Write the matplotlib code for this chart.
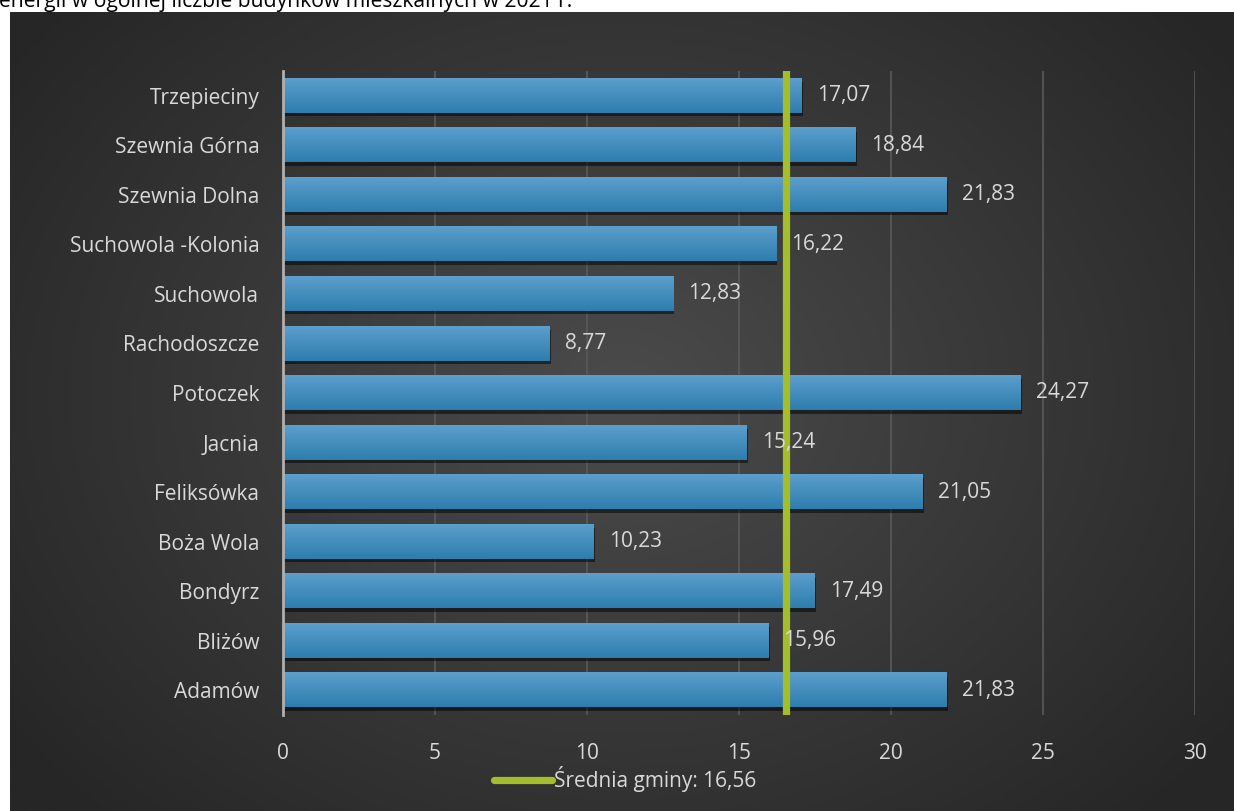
import numpy as np
import matplotlib
matplotlib.use("Agg")
import matplotlib.pyplot as plt
import matplotlib.patheffects as pe
from matplotlib.colors import LinearSegmentedColormap

plt.rcParams['font.family'] = ['Open Sans', 'DejaVu Sans']

# data, top to bottom as in the chart
villages = ['Trzepieciny', 'Szewnia Górna', 'Szewnia Dolna', 'Suchowola -Kolonia',
            'Suchowola', 'Rachodoszcze', 'Potoczek', 'Jacnia', 'Feliksówka',
            'Boża Wola', 'Bondyrz', 'Bliżów', 'Adamów']
shares = [17.07, 18.84, 21.83, 16.22, 12.83, 8.77, 24.27, 15.24, 21.05,
          10.23, 17.49, 15.96, 21.83]
average = 16.56
x_ticks = [0, 5, 10, 15, 20, 25, 30]
caption = 'energii w ogólnej liczbie budynków mieszkalnych w 2021 r.'

W, H = 1234, 811
fig = plt.figure(figsize=(W / 100, H / 100), dpi=100)
fig.patch.set_facecolor('white')

# dark panel with radial gradient
bg = fig.add_axes([10 / W, 0, 1 - 10 / W, (H - 12) / H], zorder=0)
gx, gy = np.meshgrid(np.linspace(0, 1, 400), np.linspace(0, 1, 300))
r = np.sqrt(((gx - 0.5) / 0.62) ** 2 + ((gy - 0.48) / 0.75) ** 2)
r = np.clip(r, 0, 1)
bg_cmap = LinearSegmentedColormap.from_list('bg', ['#4b4b4b', '#262626'])
bg.imshow(r, cmap=bg_cmap, aspect='auto', extent=(0, 1, 0, 1), interpolation='bilinear')
bg.set_axis_off()

fig.text(-1 / W, 1 - 7 / H, caption, fontsize=15.2, color='black', va='baseline', ha='left')

ax = fig.add_axes([283 / W, (H - 715) / H, (1195 - 283) / W, (715 - 71) / H], zorder=1)
ax.patch.set_alpha(0)

ypos = np.arange(len(villages))
bars = ax.barh(ypos, shares, height=0.69, color='#3a8cc2', zorder=3)
for b in bars:
    b.set_path_effects([pe.SimplePatchShadow(offset=(1, -2.5), shadow_rgbFace='black', alpha=0.5),
                        pe.Normal()])

# vertical gradient on each bar
grad = np.linspace(0, 1, 64).reshape(-1, 1)
bar_cmap = LinearSegmentedColormap.from_list('bar', ['#5c9fcc', '#2d7dae'])
for b in bars:
    x0, y0 = b.get_x(), b.get_y()
    ax.imshow(grad, cmap=bar_cmap, aspect='auto', zorder=4,
              extent=(x0, x0 + b.get_width(), y0 + b.get_height(), y0))

for yy, v in zip(ypos, shares):
    ax.annotate(f'{v:.2f}'.replace('.', ','), (v, yy), xytext=(11, 0),
                textcoords='offset points', va='center', ha='left',
                fontsize=15, color='#d9d9d9', zorder=6)

ax.axvline(average, color='#a4bd2b', lw=5.2, zorder=5, label=f'Średnia gminy: {average:.2f}'.replace('.', ','))

ax.set_xlim(0, 30)
ax.set_ylim(len(villages) - 0.5, -0.5)
ax.set_xticks(x_ticks)
ax.set_xticklabels([str(t) for t in x_ticks])
ax.set_yticks(ypos)
ax.set_yticklabels(villages)
ax.tick_params(axis='both', length=0, labelsize=15, labelcolor='#d9d9d9')
ax.tick_params(axis='x', pad=20)
ax.tick_params(axis='y', pad=17)
ax.grid(axis='x', color='#5a5a5a', lw=1.2, zorder=0)
for s in ['top', 'right', 'bottom']:
    ax.spines[s].set_visible(False)
ax.spines['left'].set_color('#b0b0b0')
ax.spines['left'].set_linewidth(2)
ax.spines['left'].set_zorder(5)

leg = ax.legend(loc='center', bbox_to_anchor=((625 - 283) / (1195 - 283), -(779 - 715) / (715 - 71)),
                frameon=False, fontsize=15, handlelength=2.8, handletextpad=0.08,
                labelcolor='#d9d9d9')
for line in leg.get_lines():
    line.set_solid_capstyle('round')

fig.savefig('out.png', dpi=100, facecolor=fig.get_facecolor())
